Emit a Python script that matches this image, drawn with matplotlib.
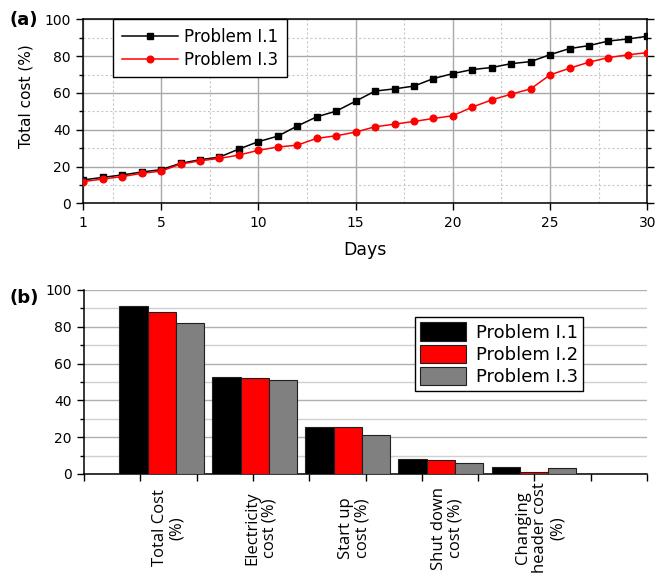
import numpy as np
import matplotlib
matplotlib.use("Agg")
import matplotlib.pyplot as plt
from matplotlib.ticker import MultipleLocator, FixedLocator, NullFormatter
from matplotlib.transforms import blended_transform_factory

# (a) cumulative total cost per day
days = list(range(1, 31))
problem_i1 = [12.7, 14.1, 15.4, 17.0, 18.3, 21.7, 23.7, 25.1, 29.5, 33.5,
              36.5, 42.0, 47.0, 50.1, 55.5, 61.0, 62.2, 63.7, 67.8, 70.5,
              72.7, 73.8, 75.9, 77.0, 80.8, 84.1, 85.7, 88.2, 89.3, 90.8]
problem_i3 = [11.8, 13.2, 14.5, 16.3, 17.5, 21.3, 23.1, 24.4, 26.2, 28.8,
              30.6, 31.6, 35.3, 36.7, 38.7, 41.6, 43.0, 44.5, 46.1, 47.6,
              52.3, 56.2, 59.3, 62.2, 69.8, 73.4, 76.7, 79.2, 80.7, 81.9]
day_ticks = [1, 5, 10, 15, 20, 25, 30]

# (b) cost breakdown
categories = ["Total Cost\n(%)", "Electricity\ncost (%)", "Start up\ncost (%)",
              "Shut down\ncost (%)", "Changing\nheader cost\n(%)"]
bar_i1 = [91.3, 52.7, 25.7, 8.0, 4.0]
bar_i2 = [87.9, 52.4, 25.5, 7.8, 1.0]
bar_i3 = [82.2, 50.9, 21.4, 6.0, 3.3]

plt.rcParams['font.family'] = ['DejaVu Sans']

fig = plt.figure(figsize=(6.72, 5.73), dpi=100)

# ---- panel (a) ----
ax1 = fig.add_axes([0.124, 0.6452, 0.8393, 0.3211])
ax1.plot(days, problem_i1, color='black', marker='s', markersize=4.3, lw=1.1, label='Problem I.1', zorder=3)
ax1.plot(days, problem_i3, color='red', marker='o', markersize=4.8, lw=1.1, label='Problem I.3', zorder=3)
ax1.set_xlim(1, 30)
ax1.set_ylim(0, 100)
ax1.xaxis.set_major_locator(FixedLocator(day_ticks))
ax1.xaxis.set_minor_locator(FixedLocator([2.5, 7.5, 12.5, 17.5, 22.5, 27.5]))
ax1.yaxis.set_major_locator(MultipleLocator(20))
ax1.yaxis.set_minor_locator(MultipleLocator(10))
ax1.grid(which='major', color='#a8a8a8', lw=1.0, ls='-')
ax1.grid(which='minor', color='#c8c8c8', lw=0.8, ls=(0, (2, 2)))
ax1.set_axisbelow(True)
ax1.tick_params(axis='both', which='major', direction='out', length=5, width=1, labelsize=10, pad=4)
ax1.tick_params(axis='y', which='minor', direction='out', length=3, width=1)
ax1.tick_params(axis='y', which='both', right=True)
ax1.tick_params(axis='x', which='minor', length=0)
for sp in ax1.spines.values():
    sp.set_linewidth(1.1)
ax1.set_xlabel('Days', fontsize=12.5, labelpad=8)
ax1.set_ylabel('Total cost (%)', fontsize=11)
ax1.yaxis.set_label_coords(-0.088, 0.58)
leg1 = ax1.legend(loc='upper left', bbox_to_anchor=(0.053, 1.0), borderaxespad=0,
                  fontsize=12, handlelength=3.4, handletextpad=0.35, labelspacing=0.3,
                  borderpad=0.5, fancybox=False, framealpha=1, edgecolor='black')
leg1.get_frame().set_linewidth(1.0)
fig.text(0.036, 0.965, '(a)', fontsize=13, fontweight='bold', ha='center', va='center')

# ---- panel (b) ----
ax2 = fig.add_axes([0.125, 0.1728, 0.8378, 0.3211])
x = np.arange(len(categories))
w = 0.303
b1 = ax2.bar(x - w, bar_i1, w, color='black', edgecolor='#202020', lw=0.8, label='Problem I.1', zorder=3)
b2 = ax2.bar(x, bar_i2, w, color='#ff0000', edgecolor='#202020', lw=0.8, label='Problem I.2', zorder=3)
b3 = ax2.bar(x + w, bar_i3, w, color='#808080', edgecolor='#202020', lw=0.8, label='Problem I.3', zorder=3)
x_lo, x_hi = -0.835, 5.217
ax2.set_xlim(x_lo, x_hi)
ax2.set_ylim(0, 100)
ax2.xaxis.set_major_locator(FixedLocator(np.linspace(x_lo, x_hi, 11)))
ax2.xaxis.set_major_formatter(NullFormatter())
ax2.yaxis.set_major_locator(MultipleLocator(20))
ax2.yaxis.set_minor_locator(MultipleLocator(10))
ax2.grid(axis='y', which='major', color='#b0b0b0', lw=1.0)
ax2.grid(axis='y', which='minor', color='#d0d0d0', lw=1.0)
ax2.set_axisbelow(True)
ax2.spines['top'].set_visible(False)
ax2.spines['right'].set_visible(False)
for sp in ['left', 'bottom']:
    ax2.spines[sp].set_linewidth(1.1)
ax2.tick_params(axis='both', which='major', direction='out', length=5, width=1, labelsize=10, pad=4)
ax2.tick_params(axis='y', which='minor', direction='out', length=3, width=1)

trans = blended_transform_factory(ax2.transData, fig.transFigure)
for i, lab in enumerate(categories):
    ax2.text(x[i] + 0.07, 1 - 528 / 573, lab, transform=trans, rotation=90,
             ha='center', va='center', multialignment='center',
             family=['Open Sans', 'DejaVu Sans'], fontsize=12, linespacing=1.1)

leg2 = ax2.legend(handles=[b1, b2, b3], loc='upper left', bbox_to_anchor=(0.588, 0.853),
                  borderaxespad=0, fontsize=13, handlelength=2.5, handleheight=1.2,
                  handletextpad=0.55, labelspacing=0.15, borderpad=0.3,
                  fancybox=False, framealpha=1, edgecolor='black')
leg2.get_frame().set_linewidth(1.0)
fig.text(0.036, 0.48, '(b)', fontsize=13, fontweight='bold', ha='center', va='center')

fig.savefig('out.png', dpi=100)
